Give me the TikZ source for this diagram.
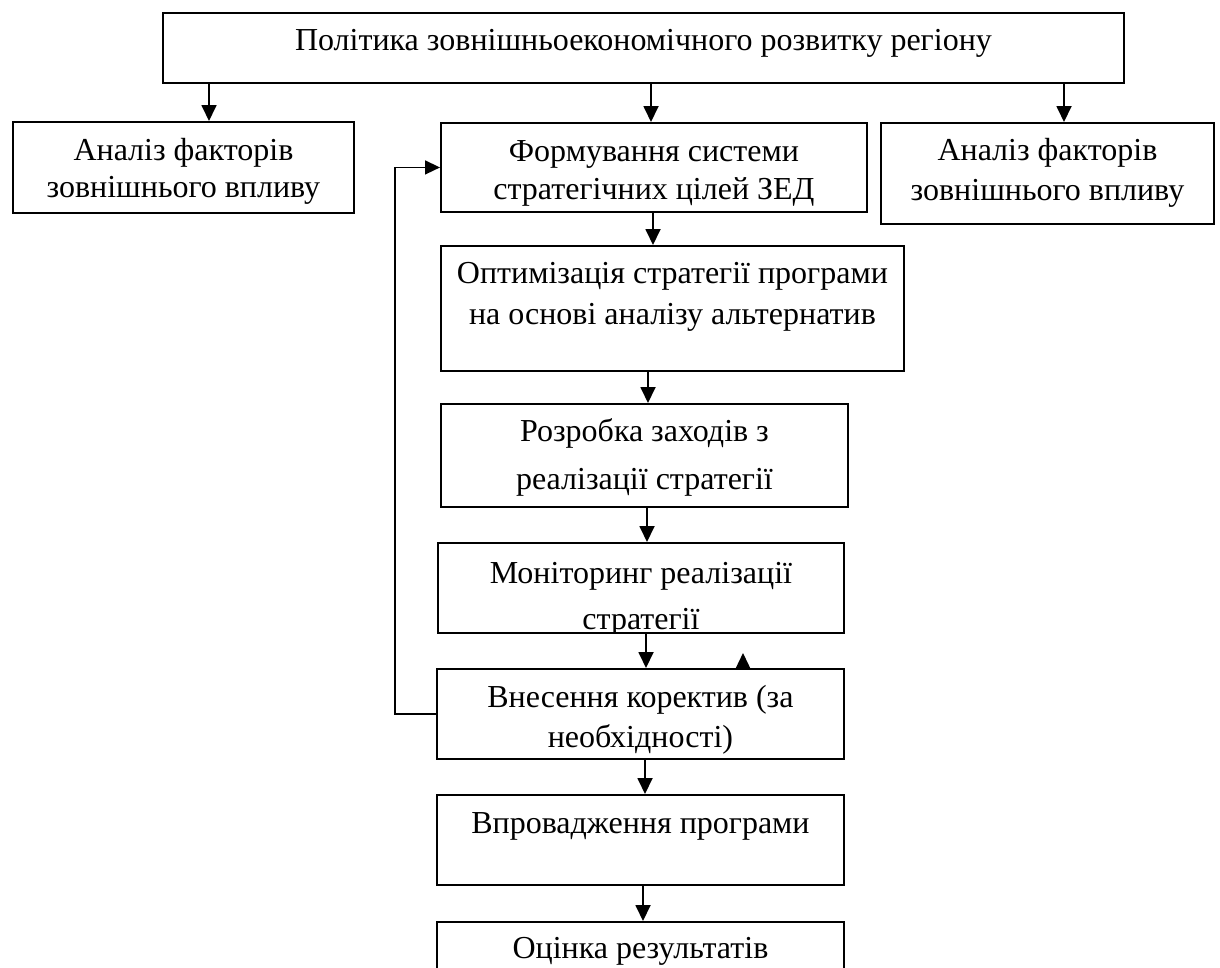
\documentclass[tikz,border=0pt]{standalone}
\usepackage{fontspec}
\setmainfont{Liberation Serif}
\usetikzlibrary{arrows.meta,calc}
\begin{document}
\begin{tikzpicture}[x=1pt,y=-1pt,
 box/.style={draw,line width=1.9pt,inner sep=0pt,anchor=north west},
 txt/.style={anchor=base,align=center,inner sep=0pt,font=\fontsize{32}{40}\selectfont},
 arr/.style={line width=1.8pt,-{Triangle[width=15pt,length=16pt]}},
 fb/.style={line width=1.5pt,-{Triangle[width=14pt,length=15pt]}}]
\useasboundingbox (0,0) rectangle (1220,967);
\clip (0,0) rectangle (1220,967);
% boxes
\node[box,minimum width=961pt,minimum height=70pt] (top) at (162,12) {};
\node[box,minimum width=341pt,minimum height=91pt] (ana1) at (12,121) {};
\node[box,minimum width=426pt,minimum height=89pt] (form) at (440,122) {};
\node[box,minimum width=333pt,minimum height=101pt] (ana2) at (880,122) {};
\node[box,minimum width=463pt,minimum height=125pt] (opt) at (440,245) {};
\node[box,minimum width=407pt,minimum height=103pt] (rozr) at (440,403) {};
\node[box,minimum width=406pt,minimum height=90pt] (mon) at (437,542) {};
\node[box,minimum width=407pt,minimum height=90pt] (vnes) at (436,668) {};
\node[box,minimum width=407pt,minimum height=90pt] (vpr) at (436,794) {};
\node[box,minimum width=407pt,minimum height=90pt] (ots) at (436,921) {};
% texts (anchor base = baseline of the last line)
\node[txt] (ttop) at ($(top.north)+(0,38)$) {Політика зовнішньоекономічного розвитку регіону};
\node[txt,font=\fontsize{32}{37}\selectfont] (tana1) at ($(ana1.north)+(0,76)$) {Аналіз факторів\\зовнішнього впливу};
\node[txt,font=\fontsize{32}{38}\selectfont] (tform) at ($(form.north)+(0,77)$) {Формування системи\\стратегічних цілей ЗЕД};
\node[txt] (tana2) at ($(ana2.north)+(0,78)$) {Аналіз факторів\\зовнішнього впливу};
\node[txt,font=\fontsize{32}{41}\selectfont] (topt) at ($(opt.north)+(0,79)$) {Оптимізація стратегії програми\\на основі аналізу альтернатив};
\node[txt,font=\fontsize{32}{48}\selectfont] (trozr) at ($(rozr.north)+(0,86)$) {Розробка заходів з\\реалізації стратегії};
\begin{scope}
\clip (mon.north west) rectangle (mon.south east);
\node[txt,font=\fontsize{32}{46}\selectfont] (tmon) at ($(mon.north)+(0,87)$) {Моніторинг реалізації\\стратегії};
\end{scope}
\node[txt] (tvnes) at ($(vnes.north)+(0,79)$) {Внесення коректив (за\\необхідності)};
\node[txt] (tvpr) at ($(vpr.north)+(0,39)$) {Впровадження програми};
\node[txt] (tots) at ($(ots.north)+(0,37)$) {Оцінка результатів};
% arrow x positions
\coordinate (a1) at (209,0);
\coordinate (a2) at (651,0);
\coordinate (a3) at (1064,0);
\coordinate (c1) at (653,0);
\coordinate (c2) at (648,0);
\coordinate (c3) at (647,0);
\coordinate (c4) at (646,0);
\coordinate (c5) at (645,0);
\coordinate (c6) at (643,0);
\coordinate (fbx) at (395,0);
\coordinate (sx) at (743,0);
% connectors
\draw[arr] (top.south -| a1) -- (ana1.north -| a1);
\draw[arr] (top.south -| a2) -- (form.north -| a2);
\draw[arr] (top.south -| a3) -- (ana2.north -| a3);
\draw[arr] (form.south -| c1) -- (opt.north -| c1);
\draw[arr] (opt.south -| c2) -- (rozr.north -| c2);
\draw[arr] (rozr.south -| c3) -- (mon.north -| c3);
\draw[arr] (mon.south -| c4) -- (vnes.north -| c4);
\draw[arr] (vnes.south -| c5) -- (vpr.north -| c5);
\draw[arr] (vpr.south -| c6) -- (ots.north -| c6);
\draw[fb] (vnes.west) -- (vnes.west -| fbx) -- (form.west -| fbx) -- (form.west);
% stray arrowhead above the correction box
\coordinate (sa) at (vnes.north -| sx);
\coordinate (sb) at ($(sa)+(0,-15)$);
\draw[fb] (sa) -- (sb);
\end{tikzpicture}
\end{document}
